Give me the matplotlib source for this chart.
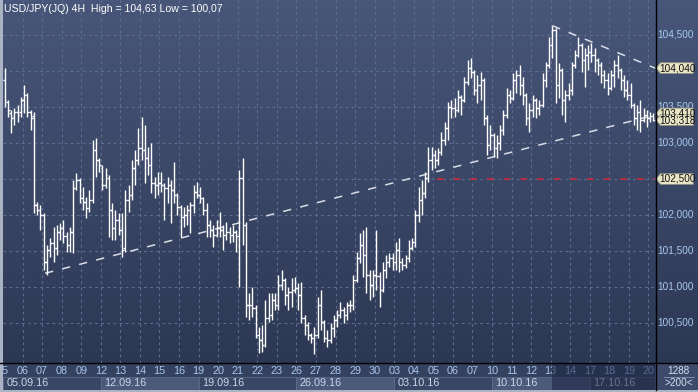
import numpy as np
import matplotlib
matplotlib.use("Agg")
import matplotlib.pyplot as plt
from matplotlib.patches import Polygon, Rectangle
from matplotlib.lines import Line2D
import matplotlib.transforms as mtransforms

plt.rcParams['font.family'] = ['Liberation Sans', 'DejaVu Sans']

# ---------------- data (USD/JPY 4H bars) ----------------
opens = [
    103.88, 103.57, 103.42, 103.36, 103.43, 103.43, 103.60, 103.67, 103.43, 103.38,
    102.14, 102.07, 102.00, 101.35, 101.51, 101.61, 101.54, 101.76, 101.82, 101.71,
    101.58, 101.76, 102.38, 102.49, 102.24, 102.18, 102.10, 102.21, 102.90, 102.76,
    102.65, 102.42, 102.51, 102.07, 101.82, 101.93, 101.79, 101.54, 102.21, 102.28,
    102.65, 102.76, 102.93, 102.90, 102.79, 102.69, 102.44, 102.42, 102.44, 102.42,
    102.38, 102.42, 102.35, 102.28, 102.11, 101.97, 102.00, 102.07, 102.14, 102.32,
    102.28, 102.24, 102.07, 101.86, 101.79, 101.72, 101.82, 101.79, 101.72, 101.76,
    101.72, 101.76, 101.71, 102.51, 101.86, 100.75, 100.75, 100.71, 100.33, 100.26,
    100.19, 100.57, 100.61, 100.82, 100.75, 101.03, 101.10, 100.89, 100.93, 100.96,
    100.99, 100.89, 100.57, 100.47, 100.33, 100.29, 100.33, 100.75, 100.51, 100.29,
    100.26, 100.43, 100.54, 100.61, 100.68, 100.61, 100.75, 100.75, 101.10, 101.40,
    101.58, 101.44, 101.17, 101.03, 101.17, 101.15, 100.96, 101.24, 101.35, 101.40,
    101.35, 101.51, 101.35, 101.31, 101.40, 101.54, 101.63, 102.00, 102.21, 102.31,
    102.51, 102.76, 102.83, 102.76, 102.88, 103.04, 103.21, 103.50, 103.49, 103.46,
    103.64, 103.60, 103.85, 104.04, 103.99, 103.74, 103.81, 103.88, 103.35, 102.97,
    103.11, 102.93, 103.00, 103.18, 103.39, 103.67, 103.63, 103.88, 103.94, 103.81,
    103.67, 103.35, 103.46, 103.60, 103.49, 103.53, 103.88, 104.08, 104.36, 104.57,
    103.81, 104.01, 103.60, 103.67, 103.74, 104.08, 104.22, 104.36, 104.15, 104.22,
    104.26, 104.22, 104.15, 104.08, 103.94, 103.88, 103.76, 103.94, 104.08, 104.01,
    103.88, 103.74, 103.67, 103.53, 103.35, 103.43, 103.32, 103.39, 103.35, 103.38,
]
highs = [
    104.04, 103.60, 103.46, 103.49, 103.53, 103.64, 103.81, 103.69, 103.46, 103.43,
    102.18, 102.14, 102.03, 101.58, 101.68, 101.83, 101.86, 101.89, 101.93, 101.76,
    101.83, 102.49, 102.58, 102.51, 102.39, 102.25, 102.35, 103.04, 103.07, 102.79,
    102.69, 102.65, 102.56, 102.17, 102.07, 102.03, 102.03, 102.35, 102.42, 102.76,
    102.90, 103.21, 103.36, 103.25, 102.94, 103.00, 102.53, 102.60, 102.60, 102.44,
    102.53, 102.49, 102.74, 102.31, 102.14, 102.11, 102.14, 102.18, 102.42, 102.46,
    102.39, 102.25, 102.17, 101.93, 101.86, 101.93, 102.04, 101.86, 101.90, 101.83,
    101.86, 101.79, 102.63, 102.79, 101.90, 100.92, 101.00, 100.75, 100.44, 100.47,
    100.82, 100.92, 100.92, 100.92, 101.17, 101.24, 101.13, 101.00, 101.13, 101.14,
    101.06, 101.07, 100.61, 100.51, 100.36, 100.44, 100.86, 100.96, 100.54, 100.40,
    100.50, 100.61, 100.68, 100.79, 100.72, 100.79, 100.82, 101.17, 101.49, 101.75,
    101.79, 101.83, 101.24, 101.24, 101.79, 101.21, 101.35, 101.44, 101.47, 101.47,
    101.63, 101.68, 101.40, 101.44, 101.65, 101.68, 102.07, 102.39, 102.49, 102.60,
    102.94, 102.94, 102.90, 102.93, 103.15, 103.29, 103.57, 103.60, 103.63, 103.74,
    103.67, 103.92, 104.15, 104.18, 104.01, 103.94, 103.99, 103.90, 103.39, 103.25,
    103.14, 103.11, 103.25, 103.46, 103.76, 103.74, 103.97, 104.01, 104.08, 103.92,
    103.69, 103.56, 103.67, 103.63, 103.60, 103.97, 104.13, 104.47, 104.63, 104.60,
    104.11, 104.04, 103.74, 103.83, 104.13, 104.29, 104.47, 104.39, 104.32, 104.36,
    104.39, 104.32, 104.18, 104.13, 104.01, 103.97, 104.01, 104.15, 104.22, 104.04,
    103.94, 103.88, 103.83, 103.56, 103.53, 103.60, 103.49, 103.46, 103.43, 103.42,
]
lows = [
    103.50, 103.36, 103.14, 103.25, 103.29, 103.36, 103.42, 103.36, 103.18, 102.03,
    102.00, 101.79, 101.24, 101.17, 101.42, 101.35, 101.44, 101.65, 101.61, 101.49,
    101.49, 101.47, 102.35, 102.17, 102.07, 101.96, 102.04, 102.17, 102.53, 102.60,
    102.35, 102.38, 101.69, 101.65, 101.65, 101.72, 101.42, 101.49, 102.04, 102.21,
    102.42, 102.69, 102.76, 102.44, 102.56, 102.31, 102.24, 102.28, 102.32, 101.93,
    102.17, 101.89, 102.17, 102.00, 101.69, 101.83, 101.86, 101.75, 102.03, 102.24,
    102.17, 102.00, 101.69, 101.69, 101.56, 101.69, 101.69, 101.51, 101.65, 101.61,
    101.63, 101.49, 101.00, 101.58, 100.58, 100.54, 100.58, 100.29, 100.08, 100.10,
    100.17, 100.51, 100.54, 100.68, 100.68, 100.96, 100.75, 100.68, 100.72, 100.92,
    100.68, 100.50, 100.33, 100.26, 100.22, 100.07, 100.29, 100.40, 100.24, 100.17,
    100.22, 100.31, 100.44, 100.57, 100.50, 100.54, 100.65, 100.68, 101.07, 101.33,
    101.14, 100.92, 100.82, 100.86, 100.96, 100.72, 100.93, 101.13, 101.28, 101.24,
    101.24, 101.21, 101.24, 101.26, 101.35, 101.51, 101.56, 101.90, 102.00, 102.24,
    102.46, 102.63, 102.65, 102.69, 102.83, 102.97, 103.04, 103.35, 103.36, 103.43,
    103.39, 103.57, 103.81, 103.90, 103.67, 103.56, 103.60, 103.25, 102.83, 102.90,
    102.81, 102.79, 102.90, 103.11, 103.35, 103.56, 103.60, 103.69, 103.67, 103.53,
    103.25, 103.15, 103.36, 103.35, 103.39, 103.50, 103.78, 104.04, 104.18, 103.56,
    103.63, 103.39, 103.29, 103.60, 103.67, 104.04, 104.19, 103.99, 103.78, 104.01,
    104.13, 103.99, 103.94, 103.83, 103.76, 103.67, 103.74, 103.78, 103.90, 103.74,
    103.64, 103.60, 103.49, 103.25, 103.18, 103.15, 103.29, 103.22, 103.29, 103.31,
]
closes = [
    103.60, 103.46, 103.35, 103.43, 103.39, 103.60, 103.67, 103.43, 103.35, 102.14,
    102.07, 102.00, 101.35, 101.51, 101.61, 101.54, 101.76, 101.82, 101.71, 101.58,
    101.76, 102.38, 102.49, 102.24, 102.18, 102.10, 102.21, 102.90, 102.76, 102.69,
    102.42, 102.56, 102.07, 101.82, 101.93, 101.79, 101.51, 102.21, 102.28, 102.65,
    102.76, 102.93, 102.90, 102.79, 102.69, 102.44, 102.42, 102.44, 102.42, 102.38,
    102.42, 102.35, 102.28, 102.11, 101.97, 102.00, 102.07, 102.14, 102.32, 102.28,
    102.24, 102.07, 101.86, 101.79, 101.72, 101.82, 101.79, 101.72, 101.76, 101.72,
    101.76, 101.71, 102.51, 101.86, 100.75, 100.75, 100.71, 100.33, 100.26, 100.19,
    100.57, 100.61, 100.82, 100.75, 101.03, 101.10, 100.89, 100.93, 100.96, 100.99,
    100.89, 100.57, 100.47, 100.33, 100.29, 100.33, 100.75, 100.51, 100.29, 100.26,
    100.43, 100.54, 100.61, 100.68, 100.61, 100.75, 100.75, 101.10, 101.40, 101.58,
    101.44, 101.17, 101.03, 101.17, 101.15, 100.96, 101.24, 101.35, 101.40, 101.35,
    101.51, 101.35, 101.31, 101.40, 101.54, 101.63, 102.00, 102.21, 102.31, 102.51,
    102.76, 102.83, 102.76, 102.88, 103.04, 103.21, 103.50, 103.49, 103.46, 103.64,
    103.60, 103.85, 104.04, 103.99, 103.74, 103.81, 103.88, 103.35, 102.97, 103.11,
    102.93, 103.00, 103.18, 103.39, 103.67, 103.63, 103.88, 103.94, 103.81, 103.67,
    103.35, 103.46, 103.60, 103.49, 103.53, 103.88, 104.08, 104.36, 104.57, 103.81,
    104.01, 103.60, 103.67, 103.74, 104.08, 104.22, 104.36, 104.15, 104.22, 104.26,
    104.22, 104.15, 104.08, 103.94, 103.88, 103.76, 103.94, 104.08, 104.01, 103.88,
    103.74, 103.67, 103.53, 103.35, 103.43, 103.32, 103.39, 103.35, 103.38, 103.318,
]

day_labels = ["05", "06", "07", "08", "09", "12", "13", "14", "15", "16", "19", "20",
              "21", "22", "23", "26", "27", "28", "29", "30", "03", "04", "05", "06",
              "07", "10", "11", "12", "13", "14", "17", "18", "19", "20"]
week_labels = ["05.09.16", "12.09.16", "19.09.16", "26.09.16", "03.10.16", "10.10.16", "17.10.16"]
price_labels = [104.5, 103.5, 103.0, 102.0, 101.5, 101.0, 100.5]
grid_levels = [100.5, 101.0, 101.5, 102.0, 102.5, 103.0, 103.5, 104.0, 104.5]
tag_values = [104.04, 103.41, 103.318, 102.5]
lower_trend_x = [12.4, 199.5]
lower_trend_y = [101.19, 103.39]
upper_trend_x = [168.0, 199.5]
upper_trend_y = [104.63, 104.04]
level_line = 102.5
level_start = 132.5
title = "USD/JPY(JQ) 4H  High = 104,63 Low = 100,07"
bars_per_day = 6

# ---------------- figure ----------------
W, H = 698, 392
fig = plt.figure(figsize=(W / 100, H / 100), dpi=100)

def rect(px_left, px_top, px_w, px_h):
    return [px_left / W, 1 - (px_top + px_h) / H, px_w / W, px_h / H]

# background gradient
bg = fig.add_axes([0, 0, 1, 1])
bg.set_axis_off()
g = np.linspace(0, 1, 256)[:, None, None]
top_c = np.array([72, 86, 121]) / 255
bot_c = np.array([42, 53, 80]) / 255
img = top_c + (bot_c - top_c) * g
bg.imshow(img, aspect='auto', extent=[0, 1, 0, 1], transform=bg.transAxes)

n = len(closes)
x = np.arange(n)
ymax = 104.986
ymin = ymax - 363 / 72

ax = fig.add_axes(rect(3, 0, 652, 363))
ax.patch.set_alpha(0)
ax.set_xlim(-0.5, n - 0.5)
ax.set_ylim(ymin, ymax)
ax.set_axis_off()

grid_c = '#5d6d90'
ndays = len(day_labels)
for k in range(1, ndays):
    ax.axvline(k * bars_per_day - 0.5, color=grid_c, lw=0.8, ls=(0, (2.5, 3)), zorder=1)
for v in grid_levels:
    ax.axhline(v, color=grid_c, lw=0.8, ls=(0, (2.5, 3)), zorder=1)

ax.hlines(level_line, level_start, n - 0.5, color='#c8283c', lw=1.2, ls=(0, (4, 6)), zorder=2)
ax.plot(lower_trend_x, lower_trend_y, color='#d9dde6', lw=1.1, ls=(0, (5.5, 6)), zorder=3)
ax.plot(upper_trend_x, upper_trend_y, color='#d9dde6', lw=1.1, ls=(0, (5.5, 6)), zorder=3)

ax.vlines(x, lows, highs, color='white', lw=1.0, zorder=4)
ax.hlines(opens, x - 0.55, x, color='white', lw=1.0, zorder=4)
ax.hlines(closes, x, x + 0.55, color='white', lw=1.0, zorder=4)

fig.text(4 / W, 1 - 8.5 / H, title, color='white', fontsize=7.6, ha='left', va='center')

# right price axis
axr = fig.add_axes(rect(655, 0, 43, 363))
axr.patch.set_alpha(0)
axr.set_xlim(0, 1)
axr.set_ylim(ymin, ymax)
axr.set_axis_off()
for v in price_labels:
    axr.text(0.47, v, f"{v:.3f}".replace('.', ','), color='#a8c9f2', fontsize=7.2,
             ha='center', va='center')
tr = mtransforms.blended_transform_factory(axr.transAxes, axr.transData)
hh = 5.4 / 72
for v in tag_values:
    poly = Polygon([(0.02, v), (0.13, v + hh), (0.89, v + hh), (0.89, v - hh), (0.13, v - hh)],
                   closed=True, transform=tr, facecolor='#e9e6c6', edgecolor='#8f8f84',
                   lw=0.6, zorder=5)
    axr.add_patch(poly)
    axr.text(0.52, v, f"{v:.3f}".replace('.', ','), transform=tr, color='#111111',
             fontsize=7.2, ha='center', va='center', zorder=6)

# bottom date strip
axd = fig.add_axes(rect(3, 363, 652, 27))
axd.set_xlim(-0.5, n - 0.5)
axd.set_ylim(0, 27)
axd.set_axis_off()
axd.add_patch(Rectangle((-0.5, 0), n, 27, facecolor='#35425f', edgecolor='none', zorder=0))
week_len = bars_per_day * 5
for w, lab in enumerate(week_labels):
    x0 = w * week_len - 0.5
    fc = '#4c5a79' if w % 2 == 1 else '#3a4764'
    axd.add_patch(Rectangle((x0, 0.5), week_len, 13, facecolor=fc,
                            edgecolor='#5e6b88', lw=0.6, zorder=1))
    axd.text(x0 + 1.1, 6.8, lab, color='#c9d5ea', fontsize=7.8, ha='left', va='center',
             clip_on=True, zorder=2)
for k, lab in enumerate(day_labels):
    axd.text(k * bars_per_day - 0.5, 19.5, lab, color='#a8c4ec', fontsize=7.8,
             ha='center', va='center', clip_on=True, zorder=2)
axd.add_patch(Rectangle((28 * bars_per_day - 0.2, 0), n - 28 * bars_per_day - 0.3, 27,
                        facecolor='#1b2340', alpha=0.55, edgecolor='none', zorder=4))

# bottom-right cell
axc = fig.add_axes(rect(655, 363, 43, 27))
axc.set_xlim(0, 1)
axc.set_ylim(0, 27)
axc.set_axis_off()
axc.add_patch(Rectangle((0, 0), 1, 27, facecolor='#3d4a69', edgecolor='none'))
axc.text(0.55, 19.5, "1288", color='#d5def0', fontsize=7.2, ha='center', va='center')
axc.text(0.55, 6.5, ">200<", color='#d5def0', fontsize=7.2, ha='center', va='center')
axc.plot([0.22, 0.9], [13.5, 13.5], color='#8a98b8', lw=0.6)

# separator lines and borders
fig.add_artist(Line2D([655.5 / W, 655.5 / W], [2 / H, 1], color='black', lw=1.0))
fig.add_artist(Line2D([0, 1], [1 - 363 / H, 1 - 363 / H], color='black', lw=1.0))
fig.add_artist(Rectangle((0, 0), 2.5 / W, 1, transform=fig.transFigure,
                         facecolor='#aab3c4', edgecolor='none'))
fig.add_artist(Rectangle((0, 0), 1, 2.2 / H, transform=fig.transFigure,
                         facecolor='#aab3c4', edgecolor='none'))

fig.savefig("out.png", dpi=100)
